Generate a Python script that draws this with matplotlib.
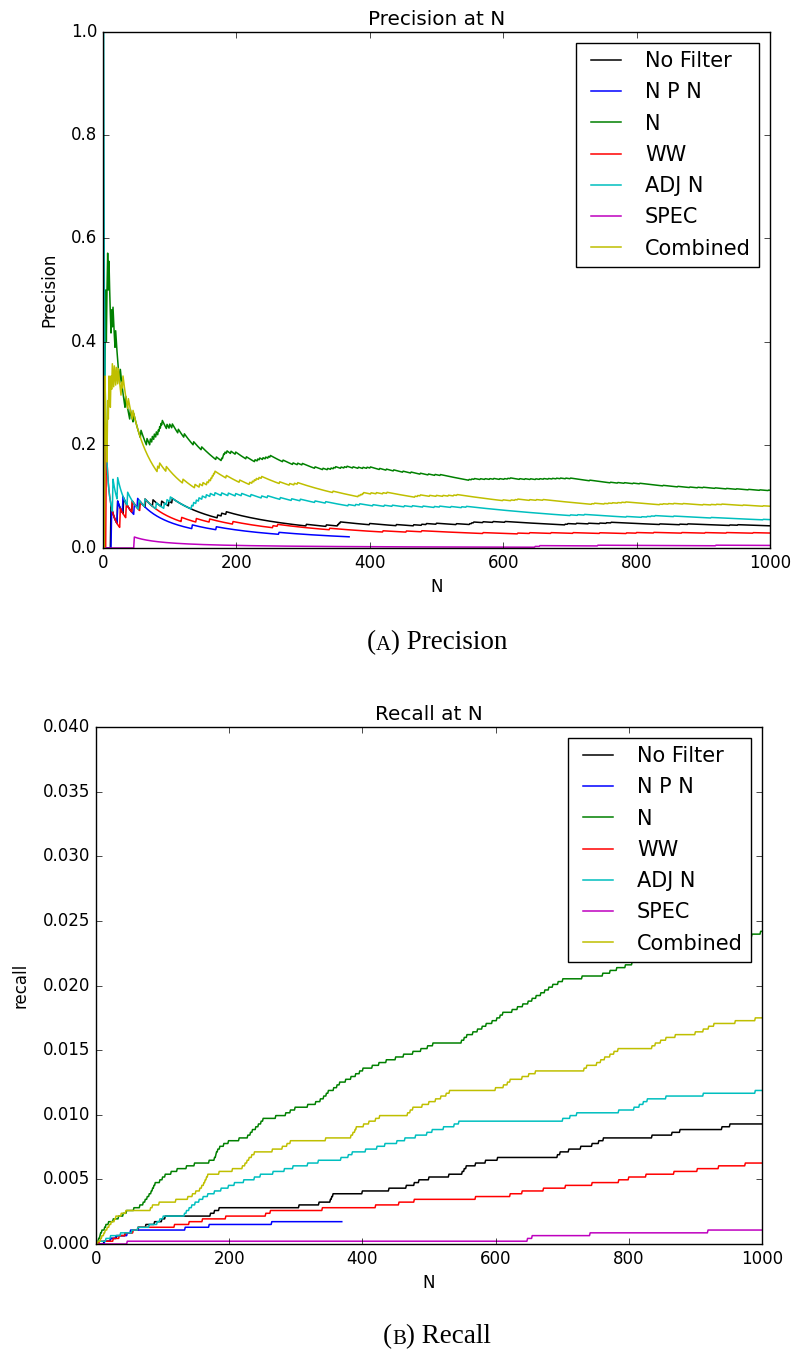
import numpy as np
import matplotlib
matplotlib.use("Agg")
import matplotlib.pyplot as plt
from matplotlib.offsetbox import TextArea, HPacker, AnchoredOffsetbox

# Ranks (1-based) of relevant results returned by each filter
TOTAL_RELEVANT = 4630

labels = ["No Filter", "N P N", "N", "WW", "ADJ N", "SPEC", "Combined"]
colors = ["k", "b", "g", "r", "c", "m", "y"]
list_lengths = [1000, 369, 1000, 1000, 1000, 1000, 1000]

hits_no_filter = [12, 22, 31, 44, 55, 64, 75, 88, 99, 104, 172, 178, 185, 305,
                  335, 352, 354, 356, 400, 440, 466, 478, 485, 500, 530, 550,
                  553, 556, 570, 585, 603, 693, 697, 710, 728, 745, 755, 762,
                  835, 865, 877, 940, 952]
hits_npn = [13, 22, 30, 47, 52, 134, 170, 264]
hits_n = [3, 4, 6, 7, 9, 13, 15, 19, 26, 34, 41, 46, 57, 66, 71, 74, 77, 80,
          83, 85, 87, 89, 96, 100, 104, 113, 122, 136, 148, 170, 178, 180, 181,
          183, 186, 192, 199, 215, 228, 232, 235, 240, 244, 248, 251, 270, 285,
          292, 299, 318, 330, 337, 342, 346, 349, 357, 362, 366, 375, 383, 390,
          396, 401, 415, 425, 436, 450, 462, 476, 488, 498, 506, 549, 553, 557,
          566, 573, 580, 586, 595, 602, 607, 611, 625, 633, 641, 649, 655, 661,
          668, 674, 680, 686, 694, 701, 730, 761, 772, 782, 795, 805, 840, 862,
          880, 892, 900, 918, 935, 950, 968, 985, 998]
hits_ww = [5, 26, 35, 44, 56, 63, 118, 140, 160, 195, 255, 262, 340, 420, 455,
           478, 570, 622, 640, 672, 705, 745, 785, 800, 826, 868, 903, 935, 975]
hits_adj_n = [1, 15, 22, 37, 54, 63, 80, 92, 96, 101, 133, 136, 140, 144, 149,
              155, 161, 168, 178, 188, 199, 208, 222, 238, 247, 266, 283, 296,
              318, 334, 368, 379, 385, 405, 422, 434, 452, 464, 480, 497, 505,
              522, 538, 545, 701, 712, 722, 785, 808, 816, 822, 828, 856, 912,
              990]
hits_spec = [47, 648, 655, 742, 919]
hits_combined = [3, 7, 9, 12, 14, 17, 20, 23, 28, 30, 38, 45, 82, 85, 95, 120,
                 138, 145, 150, 156, 159, 162, 164, 166, 168, 185, 205, 220,
                 224, 227, 230, 234, 238, 265, 280, 287, 292, 345, 383, 386,
                 389, 391, 402, 410, 420, 426, 468, 472, 476, 490, 500, 510,
                 518, 526, 531, 600, 612, 618, 622, 640, 650, 660, 733, 737,
                 752, 758, 764, 772, 778, 784, 835, 840, 848, 856, 870, 900,
                 912, 920, 928, 960, 990]

all_hits = [hits_no_filter, hits_npn, hits_n, hits_ww, hits_adj_n, hits_spec,
            hits_combined]

x_ticks = [0, 200, 400, 600, 800, 1000]
p_ticks = [0.0, 0.2, 0.4, 0.6, 0.8, 1.0]
r_ticks = [0.000, 0.005, 0.010, 0.015, 0.020, 0.025, 0.030, 0.035, 0.040]


def curves(hits, length):
    rel = np.zeros(length)
    rel[np.asarray(hits) - 1] = 1
    found = np.cumsum(rel)
    n = np.arange(1, length + 1)
    return n, found / n, found / TOTAL_RELEVANT


plt.style.use("classic")
plt.rcParams["figure.facecolor"] = "white"
plt.rcParams["savefig.facecolor"] = "white"

W, H = 795, 1352
fig = plt.figure(figsize=(W / 100, H / 100), dpi=100)

ax_p = fig.add_axes([103 / W, 1 - 548 / H, 667 / W, 516 / H])
ax_r = fig.add_axes([96 / W, 1 - 1244 / H, 666 / W, 517 / H])

for hits, length, lab, col in zip(all_hits, list_lengths, labels, colors):
    n, prec, rec = curves(hits, length)
    ax_p.plot(n, prec, color=col, lw=1.1, label=lab)
    ax_r.plot(n, rec, color=col, lw=1.1, label=lab)

leg_kw = dict(loc="upper right", fontsize=15, handlelength=2.05,
              handletextpad=0.85, borderpad=0.4, labelspacing=0.54,
              borderaxespad=0.52, fancybox=False, frameon=True)

ax_p.set_xlim(0, 1000)
ax_p.set_ylim(0, 1.0)
ax_p.set_xticks(x_ticks)
ax_p.set_yticks(p_ticks)
ax_p.set_yticklabels([f"{v:.1f}" for v in p_ticks])
ax_p.set_title("Precision at N", fontsize=14.4)
ax_p.set_xlabel("N", fontsize=12)
ax_p.set_ylabel("Precision", fontsize=12, labelpad=9)
ax_p.legend(**leg_kw)

ax_r.set_xlim(0, 1000)
ax_r.set_ylim(0, 0.040)
ax_r.set_xticks(x_ticks)
ax_r.set_yticks(r_ticks)
ax_r.set_yticklabels([f"{v:.3f}" for v in r_ticks])
ax_r.set_title("Recall at N", fontsize=14.4)
ax_r.set_xlabel("N", fontsize=12)
ax_r.set_ylabel("recall", fontsize=12, labelpad=10)
ax_r.legend(**leg_kw)


def caption(letter, word, y_frac):
    big = dict(family="Liberation Serif", size=19.5, color="black")
    small = dict(family="Liberation Serif", size=15, color="black")
    box = HPacker(children=[TextArea("(", textprops=big),
                            TextArea(letter, textprops=small),
                            TextArea(") " + word, textprops=big)],
                  align="baseline", pad=0, sep=0)
    anchored = AnchoredOffsetbox(loc="center", child=box, frameon=False,
                                 bbox_to_anchor=(437 / W, y_frac),
                                 bbox_transform=fig.transFigure, pad=0,
                                 borderpad=0)
    fig.add_artist(anchored)


caption("A", "Precision", 1 - 643 / H)
caption("B", "Recall", 1 - 1337 / H)

fig.savefig("out.png", dpi=100)
